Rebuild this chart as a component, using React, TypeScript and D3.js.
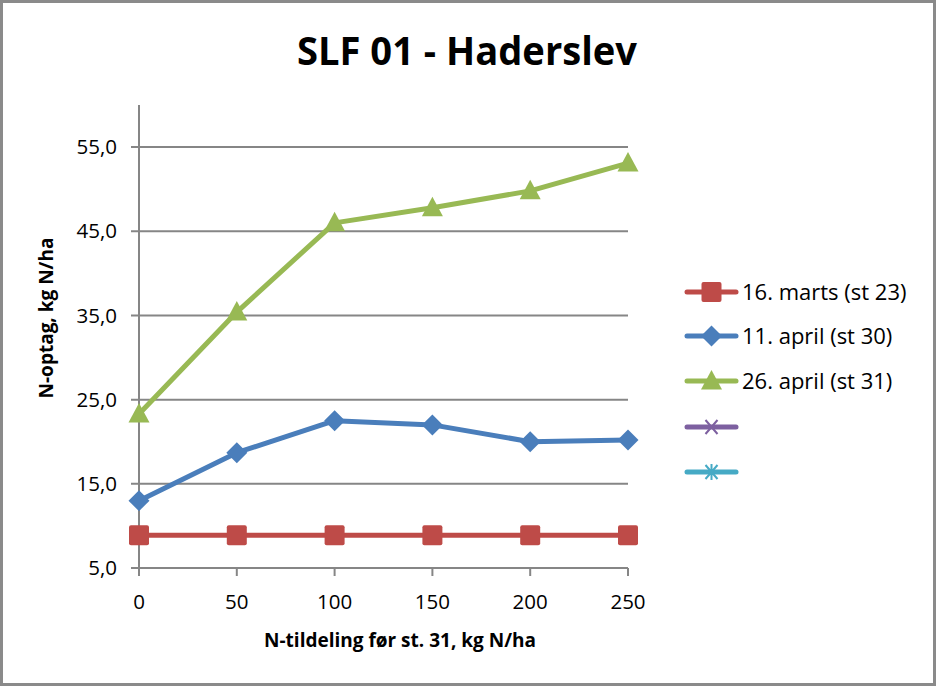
import React from "react";
import * as d3 from "d3";

const xValues = [0, 50, 100, 150, 200, 250];
const seriesNames = ["16. marts (st 23)", "11. april (st 30)", "26. april (st 31)", "", ""];
const marts = [8.9, 8.9, 8.9, 8.9, 8.9, 8.9];
const april11 = [13.0, 18.7, 22.5, 22.0, 20.0, 20.2];
const april26 = [23.3, 35.4, 46.0, 47.8, 49.8, 53.1];
const yTicks = [5, 15, 25, 35, 45, 55];
const colors = ["#BE4B48", "#4A7EBB", "#98B954", "#7D60A0", "#46AAC5"];
const markers = ["square", "diamond", "triangle", "x", "star"];

const W = 937, H = 687;
const FONT = "'Open Sans', 'Liberation Sans', sans-serif";

function Marker({ type, x, y, color }: { type: string; x: number; y: number; color: string }) {
  if (type === "square") return <rect x={x - 10} y={y - 10} width={20} height={20} rx={2} fill={color} />;
  if (type === "diamond") return <path d={`M${x},${y - 10.5}L${x + 10.5},${y}L${x},${y + 10.5}L${x - 10.5},${y}Z`} fill={color} />;
  if (type === "triangle") return <path d={`M${x},${y - 11}L${x + 10.5},${y + 8.5}L${x - 10.5},${y + 8.5}Z`} fill={color} />;
  if (type === "x") return <path d={`M${x - 6},${y - 7}L${x + 6},${y + 7}M${x + 6},${y - 7}L${x - 6},${y + 7}`} stroke={color} strokeWidth={2} />;
  return <path d={`M${x - 6},${y - 7}L${x + 6},${y + 7}M${x + 6},${y - 7}L${x - 6},${y + 7}M${x},${y - 8}L${x},${y + 8}`} stroke={color} strokeWidth={2} />;
}

export default function App() {
  const x = d3.scaleLinear().domain([0, 250]).range([139, 628]);
  const y = d3.scaleLinear().domain([5, 60]).range([568, 105]);
  const data = [marts, april11, april26];
  const line = d3.line<number>().x((_, i) => x(xValues[i])).y((d) => y(d));
  const legendY = [292, 336, 381, 427, 472];

  return (
    <svg width={W} height={H} style={{ position: "absolute", left: 0, top: 0, background: "#fff" }} fontFamily={FONT}>
      <rect x={1.5} y={1.5} width={W - 4} height={H - 4} fill="#fff" stroke="#8a8a8a" strokeWidth={3} />
      <text x={467} y={65} textAnchor="middle" fontSize={40} fontWeight="bold" fill="#000" textLength={340} lengthAdjust="spacingAndGlyphs">SLF 01 - Haderslev</text>
      {yTicks.map((t) => (
        <line key={t} x1={131} x2={628} y1={y(t)} y2={y(t)} stroke="#868686" strokeWidth={2} />
      ))}
      <line x1={139} x2={139} y1={y(60)} y2={y(5) + 8} stroke="#868686" strokeWidth={2} />
      {xValues.slice(1).map((v) => (
        <line key={v} x1={x(v)} x2={x(v)} y1={y(5)} y2={y(5) + 8} stroke="#868686" strokeWidth={2} />
      ))}
      {yTicks.map((t) => (
        <text key={t} x={117} y={y(t)} dy="0.35em" textAnchor="end" fontSize={20.5} fill="#000">{d3.format(".1f")(t).replace(".", ",")}</text>
      ))}
      {xValues.map((v) => (
        <text key={v} x={x(v)} y={602} dy="0.35em" textAnchor="middle" fontSize={20.5} fill="#000">{v}</text>
      ))}
      <text x={400} y={647} textAnchor="middle" fontSize={19} fontWeight="bold" fill="#000">N-tildeling før st. 31, kg N/ha</text>
      <text transform={`translate(53,318) rotate(-90)`} textAnchor="middle" fontSize={19} fontWeight="bold" fill="#000">N-optag, kg N/ha</text>
      {data.map((s, i) => (
        <g key={i}>
          <path d={line(s) || ""} fill="none" stroke={colors[i]} strokeWidth={5} strokeLinejoin="round" />
          {s.map((v, j) => <Marker key={j} type={markers[i]} x={x(xValues[j])} y={y(v)} color={colors[i]} />)}
        </g>
      ))}
      {seriesNames.map((name, i) => (
        <g key={i}>
          <line x1={687} x2={736} y1={legendY[i]} y2={legendY[i]} stroke={colors[i]} strokeWidth={5} strokeLinecap="round" />
          <Marker type={markers[i]} x={711.5} y={legendY[i]} color={colors[i]} />
          <text x={742} y={legendY[i]} dy="0.35em" fontSize={22} fill="#000">{name}</text>
        </g>
      ))}
    </svg>
  );
}
